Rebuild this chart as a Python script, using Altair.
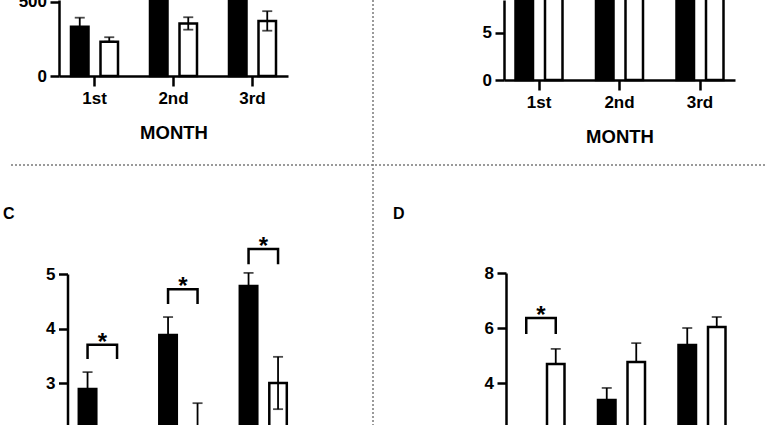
import altair as alt
import pandas as pd

FONT = "Liberation Sans"
W, H = 765, 425

MONTHS = ["1st", "2nd", "3rd"]
SERIES = ["Group 1", "Group 2"]
FILLS = ["black", "white"]

# ---- Panel A (top-left) ----
A_BLACK = [333, 780, 760]
A_BLACK_ERR = [61, 90, 85]
A_WHITE = [232, 355, 372]
A_WHITE_UP = [30, 42, 66]
A_WHITE_LO = [0, 42, 66]
A_TICKS = [0, 500]

# ---- Panel B (top-right) ----
B_BLACK = [13.4, 14.1, 12.9]
B_BLACK_ERR = [1.1, 1.3, 1.0]
B_WHITE = [12.0, 12.7, 13.2]
B_WHITE_UP = [1.0, 1.2, 1.1]
B_WHITE_LO = [1.0, 1.2, 1.1]
B_TICKS = [0, 5]

# ---- Panel C (bottom-left) ----
C_BLACK = [2.89, 3.88, 4.78]
C_BLACK_ERR = [0.31, 0.33, 0.24]
C_WHITE = [1.70, 2.10, 3.00]
C_WHITE_UP = [0.30, 0.53, 0.48]
C_WHITE_LO = [0.30, 0.53, 0.48]
C_TICKS = [3, 4, 5]
C_SIG_MONTHS = ["1st", "2nd", "3rd"]
C_SIG_TOP = [3.70, 4.72, 5.46]
C_SIG_LEG = [3.44, 4.45, 5.18]

# ---- Panel D (bottom-right) ----
D_BLACK = [2.00, 3.38, 5.38]
D_BLACK_ERR = [0.35, 0.44, 0.62]
D_WHITE = [4.69, 4.76, 6.04]
D_WHITE_UP = [0.55, 0.69, 0.36]
D_WHITE_LO = [0, 0, 0]
D_TICKS = [4, 6, 8]
D_SIG_MONTHS = ["1st"]
D_SIG_TOP = [6.36]
D_SIG_LEG = [5.78]

PANEL_LABELS = ["C", "D"]
X_TITLE = "MONTH"

# layout (pixels)
GROUP_W = 47.0
OFFSET_PAD = 12.0 / 29.5
LAYOUT = {
    "A": dict(axis_x=59, c1=94.5, step=79.0, ydom=[0, 513.5], yrng=[76, 0], xaxis_y=76),
    "B": dict(axis_x=504, c1=539.0, step=80.5, ydom=[0, 8.5], yrng=[80, 0], xaxis_y=80),
    "C": dict(axis_x=67.5, c1=102.3, step=80.5, ydom=[0, 5], yrng=[546.5, 274], xaxis_y=None),
    "D": dict(axis_x=506, c1=541.0, step=80.5, ydom=[0, 8], yrng=[493, 273], xaxis_y=None),
}


def make_df(black, berr, white, wup, wlo):
    rows = []
    for i, m in enumerate(MONTHS):
        rows.append(dict(month=m, series=SERIES[0], mean=black[i],
                         lo=black[i] - berr[i], hi=black[i] + berr[i]))
        rows.append(dict(month=m, series=SERIES[1], mean=white[i],
                         lo=white[i] - wlo[i], hi=white[i] + wup[i]))
    return pd.DataFrame(rows)


def make_bracket(months, top, leg):
    rows = []
    for i, m in enumerate(months):
        pts = [(SERIES[0], leg[i]), (SERIES[0], top[i]), (SERIES[1], top[i]), (SERIES[1], leg[i])]
        for k, (s, v) in enumerate(pts):
            rows.append(dict(month=m, series=s, val=v, ord=k))
    return pd.DataFrame(rows)


def panel(df, lay, ticks, sig=None):
    ax = lay["axis_x"]
    step = lay["step"]
    pin = 1 - GROUP_W / step
    pout = (lay["c1"] - ax - GROUP_W / 2) / step
    end = ax + step * (len(MONTHS) - pin + 2 * pout)
    xs = alt.Scale(domain=MONTHS, range=[ax, end], paddingInner=pin, paddingOuter=pout)
    if lay["xaxis_y"] is None:
        xa = None
    else:
        xa = alt.Axis(orient="bottom", offset=lay["xaxis_y"] - H, title=X_TITLE,
                      labelAngle=0, labelFontSize=17, labelFontWeight="bold",
                      labelPadding=4, tickSize=10, tickWidth=2.5, domainWidth=2.5,
                      titleFontSize=18.5, titleFontWeight="bold", titlePadding=17,
                      grid=False)
    ys = alt.Scale(domain=lay["ydom"], range=lay["yrng"], nice=False, zero=False)
    ya = alt.Axis(orient="left", offset=-ax, values=ticks, title=None, grid=False,
                  labelFontSize=17, labelFontWeight="bold", labelPadding=3.5,
                  tickSize=9, tickWidth=2.5, domainWidth=2.5)
    X = alt.X("month:N", sort=MONTHS, scale=xs, axis=xa)
    XO = alt.XOffset("series:N", sort=SERIES,
                     scale=alt.Scale(domain=SERIES, paddingInner=OFFSET_PAD, paddingOuter=0))

    def Y(f):
        return alt.Y(f + ":Q", scale=ys, axis=ya)

    base = alt.Chart(df)
    bars = base.mark_bar(stroke="black", strokeWidth=2.5).encode(
        x=X, xOffset=XO, y=Y("mean"),
        fill=alt.Fill("series:N", scale=alt.Scale(domain=SERIES, range=FILLS), legend=None),
    )
    err = base.mark_rule(color="black", strokeWidth=1.8).encode(
        x=X, xOffset=XO, y=Y("lo"), y2="hi:Q")
    cap_hi = base.mark_tick(color="black", size=10, thickness=1.8).encode(
        x=X, xOffset=XO, y=Y("hi"))
    cap_lo = base.mark_tick(color="black", size=10, thickness=1.8).encode(
        x=X, xOffset=XO, y=Y("lo"))
    layers = [bars, err, cap_hi, cap_lo]
    if sig is not None:
        months, top, leg = sig
        br = alt.Chart(make_bracket(months, top, leg)).mark_line(
            color="black", strokeWidth=2.5, strokeJoin="miter").encode(
            x=X, xOffset=XO, y=Y("val"), order="ord:Q", detail="month:N")
        stars = alt.Chart(pd.DataFrame({"month": months, "top": top})).mark_text(
            text="*", fontSize=24, fontWeight="bold", baseline="alphabetic", dy=5,
            font=FONT, color="black").encode(x=X, y=Y("top"))
        layers += [br, stars]
    return alt.layer(*layers)


pA = panel(make_df(A_BLACK, A_BLACK_ERR, A_WHITE, A_WHITE_UP, A_WHITE_LO), LAYOUT["A"], A_TICKS)
pB = panel(make_df(B_BLACK, B_BLACK_ERR, B_WHITE, B_WHITE_UP, B_WHITE_LO), LAYOUT["B"], B_TICKS)
pC = panel(make_df(C_BLACK, C_BLACK_ERR, C_WHITE, C_WHITE_UP, C_WHITE_LO), LAYOUT["C"], C_TICKS,
           (C_SIG_MONTHS, C_SIG_TOP, C_SIG_LEG))
pD = panel(make_df(D_BLACK, D_BLACK_ERR, D_WHITE, D_WHITE_UP, D_WHITE_LO), LAYOUT["D"], D_TICKS,
           (D_SIG_MONTHS, D_SIG_TOP, D_SIG_LEG))

one = alt.Data(values=[{}])
sep_v = alt.Chart(one).mark_rule(color="#7a7a7a", strokeWidth=1.5, strokeDash=[2, 2]).encode(
    x=alt.value(373), y=alt.value(0), y2=alt.value(H))
sep_h = alt.Chart(one).mark_rule(color="#7a7a7a", strokeWidth=1.5, strokeDash=[2, 2]).encode(
    x=alt.value(11), x2=alt.value(W), y=alt.value(165))
lab_c = alt.Chart(one).mark_text(text=PANEL_LABELS[0], fontSize=16, fontWeight="bold",
                                 align="left", baseline="middle", font=FONT).encode(
    x=alt.value(3), y=alt.value(214))
lab_d = alt.Chart(one).mark_text(text=PANEL_LABELS[1], fontSize=16, fontWeight="bold",
                                 align="left", baseline="middle", font=FONT).encode(
    x=alt.value(393), y=alt.value(214))

chart = alt.layer(pA, pB, pC, pD, sep_v, sep_h, lab_c, lab_d).resolve_scale(
    x="independent", y="independent", xOffset="independent"
).resolve_axis(
    x="independent", y="independent"
).properties(
    width=W, height=H, padding=0, autosize=alt.AutoSizeParams(type="none"),
    background="white",
).configure_view(stroke=None).configure_axis(
    labelFont=FONT, titleFont=FONT, labelColor="black", titleColor="black",
    domainColor="black", tickColor="black",
).configure_text(font=FONT)

chart.save("out.html", embed_options={"renderer": "svg", "actions": False})
